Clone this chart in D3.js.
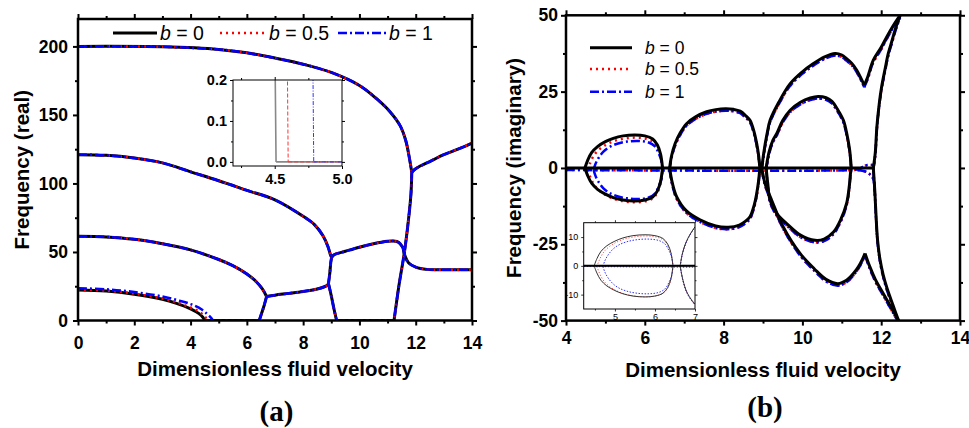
<!DOCTYPE html>
<html>
<head>
<meta charset="utf-8">
<script src="https://cdnjs.cloudflare.com/ajax/libs/d3/7.8.5/d3.min.js"></script>
<style>
body { margin: 0; background: #fff; }
svg { display: block; font-family: "Liberation Sans", Arial, sans-serif; }
</style>
</head>
<body>
<svg id="chart" width="969" height="428"></svg>
<script>
// ---- data: [velocity, frequency] ----

// (a) real part: branches common to b = 0, 0.5, 1
var realBranches = [
    [[0,200],[3,199.7],[5,197.8],[6,195.3],[7,191.5],[8,187],[9,181],[10,171.5],[10.6,162],[11.1,152],[11.45,142],[11.65,131],[11.78,118],[11.86,108]],
    [[11.86,108],[11.83,92],[11.74,73],[11.6,50],[11.4,25],[11.23,0]],
    [[11.86,108],[11.95,110],[12.1,112],[12.5,116],[13,121],[13.5,125],[14,129.5]],
    [[0,121],[1,120.5],[2,118.5],[3,115],[4,108.5],[5,102],[6,95],[7,88],[8,76],[8.4,70],[8.7,62],[8.88,54],[8.97,48],[9.01,46]],
    [[9.01,46],[9.1,48],[9.5,50.5],[10,53.5],[10.5,56],[11,57.8],[11.2,58],[11.4,57],[11.55,53]],
    [[11.55,53],[11.62,47],[11.75,42],[12,39],[12.4,37.3],[13,37],[14,37]],
    [[0,61.5],[1,61],[2,59.3],[3,56],[4,51.5],[5,44.5],[5.5,40],[6,34],[6.3,29],[6.55,23],[6.7,17.5]],
    [[6.7,17.5],[7,18.5],[7.5,19.8],[8,21.2],[8.5,23],[8.85,25.5],[8.9,27]],
    [[6.7,17.5],[6.6,10],[6.52,5],[6.44,0]],
    [[8.9,27],[8.95,35],[8.98,42],[9.01,46]],
    [[8.9,27],[9.0,18],[9.1,8],[9.19,0]],
    [[9.19,0],[11.23,0]]
];
// (a) lowest mode, one per b
var realLowB0  = [[0,22.3],[1,21.5],[2,19.2],[3,15.5],[3.5,12.5],[4,8.5],[4.3,5],[4.45,2],[4.51,0]];
var realLowB05 = [[0,22.6],[1,21.8],[2,19.6],[3,16],[3.5,13.2],[4,9.5],[4.3,6.5],[4.5,3],[4.58,0.8],[4.6,0]];
var realLowB1  = [[0,23.5],[1,22.8],[2,20.8],[3,17.5],[3.5,15],[4,12],[4.4,8],[4.6,4.5],[4.75,1.5],[4.79,0]];
var realFlat = [6.44, 0];

// (b) imaginary part: branches common to b = 0, 0.5, 1
var imagBranches = [
    [[6.63,0],[6.68,4],[6.77,8],[6.9,11.5],[7.06,14.5],[7.3,16.8],[7.57,18.4],[7.8,19.1],[8.05,19.4],[8.25,19.2],[8.42,18.6],[8.57,17],[8.67,15.6],[8.77,12],[8.84,8],[8.89,4],[8.92,0]],
    [[6.63,0],[6.7,-5],[6.81,-9.5],[7.05,-14],[7.4,-17],[7.8,-19],[8.12,-19.4],[8.4,-18.7],[8.55,-17.5],[8.67,-16],[8.78,-12],[8.84,-8.4],[8.89,-4],[8.92,0]],
    [[8.97,0],[9.02,5],[9.1,11],[9.18,15.6],[9.4,21.5],[9.69,27.6],[10,31.5],[10.28,34.2],[10.55,36.3],[10.83,37.5],[11,37],[11.12,35.8],[11.25,34.3],[11.38,32],[11.5,29],[11.57,27.1]],
    [[11.57,27.1],[11.65,29.5],[11.8,35.3],[12,39.5],[12.14,42.9],[12.3,46.5],[12.48,50]],
    [[8.97,0],[9.05,-5],[9.22,-10.6],[9.5,-19],[9.94,-28],[10.3,-33],[10.6,-36.5],[10.9,-37.9],[11.12,-36.8],[11.3,-34.5],[11.42,-32.4],[11.52,-30],[11.59,-28]],
    [[11.59,-28],[11.7,-32],[11.85,-36.5],[12,-40],[12.2,-44.5],[12.44,-50]],
    [[9.08,0],[9.15,5],[9.25,9],[9.35,11.3],[9.5,15.5],[9.69,18.9],[9.95,21.5],[10.2,22.9],[10.4,23.4],[10.6,23],[10.75,21.8],[10.9,19],[11.04,15.6],[11.13,11],[11.2,5.8],[11.24,0]],
    [[9.08,0],[9.12,-5],[9.18,-10.6],[9.35,-15],[9.6,-18.2],[9.95,-22],[10.32,-23.7],[10.55,-23.3],[10.79,-21],[10.97,-17],[11.12,-11.7],[11.19,-6],[11.22,-1.8],[11.24,0]],
    [[11.8,0],[11.85,5],[11.89,13.4],[11.95,21],[12.01,26.5],[12.1,32.5],[12.18,37.5],[12.27,41.5],[12.35,45.1],[12.48,50]],
    [[11.8,0],[11.84,-8],[11.87,-16],[11.91,-24],[11.97,-30],[12.05,-35],[12.15,-39.5],[12.3,-45],[12.44,-50]]
];
// (b) near-zero branch and the first loop, one per b
var imagZeroB0 = [[4,0],[11.82,0]];
var imagZeroB  = [[4,0],[11.3,0],[11.45,0.3],[11.55,1.2],[11.65,1.6],[11.82,1.6]];
var imagHookB  = [[11.4,0],[11.6,-0.5],[11.72,-1.5],[11.8,-3],[11.84,-8]];
var imagLoopB0  = [[4.48,0],[4.55,2.5],[4.65,5],[4.8,7],[5,8.6],[5.2,9.7],[5.45,10.5],[5.75,10.8],[6,10.5],[6.2,9.5],[6.32,7.5],[6.4,4.5],[6.45,0]];
var imagLoopB05 = [[4.55,0],[4.62,2.5],[4.72,5],[4.87,7],[5.05,8.5],[5.25,9.6],[5.5,10.3],[5.75,10.6],[6,10.3],[6.2,9.3],[6.32,7.4],[6.4,4.5],[6.45,0]];
var imagLoopB1  = [[4.7,0],[4.75,2],[4.83,4],[4.95,6],[5.1,7.5],[5.3,8.6],[5.55,9.3],[5.85,9.5],[6.1,9],[6.25,7.8],[6.35,5.5],[6.42,3],[6.45,0]];

var legendLabels = ["0", "0.5", "1"];

// ticks
var realXTicks = [0, 2, 4, 6, 8, 10, 12, 14], realXMinor = [1, 3, 5, 7, 9, 11, 13];
var realYTicks = [0, 50, 100, 150, 200], realYMinor = [25, 75, 125, 175];
var imagXTicks = [4, 6, 8, 10, 12, 14], imagXMinor = [5, 7, 9, 11, 13];
var imagYTicks = [-50, -25, 0, 25, 50], imagYMinor = [-37.5, -12.5, 12.5, 37.5];
var insetAXTicks = [4.5, 5.0], insetAXMinor = [4.25, 4.75];
var insetAYTicks = [0, 0.1, 0.2], insetAYMinor = [0.05, 0.15];
var insetBXTicks = [5, 6, 7], insetBXMinor = [4.5, 5.5, 6.5];
var insetBYTicks = [-10, 0, 10], insetBYMinor = [-5, 5];

// ---- drawing ----
var svg = d3.select("#chart");

var styles = [
    { color: "#000000", dash: null, width: 3 },
    { color: "#ff0000", dash: "2,4", width: 2.5 },
    { color: "#0000ff", dash: "9,3,2,3", width: 2.5 }
];

function intFmt(d) { return d < 0 ? "-" + Math.abs(d) : String(d); }

function addAxis(g, axis, tx, ty, font, sw) {
    var a = g.append("g").attr("transform", "translate(" + tx + "," + ty + ")").call(axis);
    a.select(".domain").remove();
    a.selectAll("line").attr("stroke", "#000").attr("stroke-width", sw);
    a.selectAll("text").attr("fill", "#000")
        .style("font-size", font.size + "px")
        .style("font-weight", font.weight)
        .style("font-family", '"Liberation Sans", Arial, sans-serif');
    return a;
}

// frame with labelled ticks left/bottom and mirrored ticks top/right
function drawFrame(g, x, y, o) {
    var w = x.range()[1], h = y.range()[0];
    var none = function() { return ""; };
    addAxis(g, d3.axisBottom(x).tickValues(o.xTicks).tickSize(o.major).tickSizeOuter(0).tickPadding(o.xPad).tickFormat(o.xFmt), 0, h, o.font, o.sw);
    addAxis(g, d3.axisBottom(x).tickValues(o.xMinor).tickSize(o.minor).tickSizeOuter(0).tickFormat(none), 0, h, o.font, o.sw);
    addAxis(g, d3.axisTop(x).tickValues(o.xTicks).tickSize(o.major).tickSizeOuter(0).tickFormat(none), 0, 0, o.font, o.sw);
    addAxis(g, d3.axisTop(x).tickValues(o.xMinor).tickSize(o.minor).tickSizeOuter(0).tickFormat(none), 0, 0, o.font, o.sw);
    addAxis(g, d3.axisLeft(y).tickValues(o.yTicks).tickSize(o.major).tickSizeOuter(0).tickPadding(o.yPad).tickFormat(o.yFmt), 0, 0, o.font, o.sw);
    addAxis(g, d3.axisLeft(y).tickValues(o.yMinor).tickSize(o.minor).tickSizeOuter(0).tickFormat(none), 0, 0, o.font, o.sw);
    addAxis(g, d3.axisRight(y).tickValues(o.yTicks).tickSize(o.major).tickSizeOuter(0).tickFormat(none), w, 0, o.font, o.sw);
    addAxis(g, d3.axisRight(y).tickValues(o.yMinor).tickSize(o.minor).tickSizeOuter(0).tickFormat(none), w, 0, o.font, o.sw);
    g.append("rect").attr("width", w).attr("height", h)
        .attr("fill", "none").attr("stroke", "#000").attr("stroke-width", o.frameW);
}

function drawLines(g, x, y, list, st, shift) {
    var line = d3.line()
        .x(function(d) { return x(d[0]); })
        .y(function(d) { return y(d[1]); })
        .curve(d3.curveCatmullRom.alpha(0.5));
    g.selectAll(null).data(list).enter().append("path")
        .attr("d", line)
        .attr("fill", "none")
        .attr("stroke", st.color)
        .attr("stroke-width", st.width)
        .attr("stroke-dasharray", st.dash)
        .attr("stroke-linejoin", "round")
        .attr("transform", shift ? "translate(0," + shift + ")" : null);
}

function clipGroup(g, id, w, h) {
    g.append("clipPath").attr("id", id).append("rect").attr("width", w).attr("height", h);
    return g.append("g").attr("clip-path", "url(#" + id + ")");
}

var bold17 = { size: 17.5, weight: "bold" };

// ---------- panel (a) ----------
var pa = { left: 78, top: 19, w: 394, h: 301.5 };
var ga = svg.append("g").attr("transform", "translate(" + pa.left + "," + pa.top + ")");
var xa = d3.scaleLinear().domain([0, 14]).range([0, pa.w]);
var ya = d3.scaleLinear().domain([0, 220]).range([pa.h, 0]);

var la = clipGroup(ga, "clipA", pa.w, pa.h);
var realLow = [realLowB0, realLowB05, realLowB1];
function realSet(i) {
    var low = realLow[i];
    return realBranches.concat([low, [low[low.length - 1], realFlat]]);
}
styles.forEach(function(st, i) {
    drawLines(la, xa, ya, realSet(i), st, 0);
});

drawFrame(ga, xa, ya, {
    xTicks: realXTicks, xMinor: realXMinor, yTicks: realYTicks, yMinor: realYMinor,
    major: 5, minor: 3, sw: 2, frameW: 2.5, font: bold17, xPad: 11, yPad: 5,
    xFmt: intFmt, yFmt: intFmt
});

// inset (a)
var ia = { left: 155, top: 61, w: 109, h: 86 };
var gia = ga.append("g").attr("transform", "translate(" + ia.left + "," + ia.top + ")");
gia.append("rect").attr("width", ia.w).attr("height", ia.h).attr("fill", "#fff");
var xia = d3.scaleLinear().domain([4.19, 5.0]).range([0, ia.w]);
var yia = d3.scaleLinear().domain([-0.01, 0.2]).range([ia.h, 0]);
var lia = clipGroup(gia, "clipIA", ia.w, ia.h);
var insetAStyles = [
    { color: "#888888", dash: null, width: 1.6 },
    { color: "#ff3333", dash: "4,2", width: 1 },
    { color: "#3333ff", dash: "4,1.5,1,1.5", width: 1 }
];
insetAStyles.forEach(function(st, i) {
    var low = realLow[i];
    var line = d3.line().x(function(d) { return xia(d[0]); }).y(function(d) { return yia(d[1]); });
    lia.selectAll(null).data([low, [low[low.length - 1], realFlat]]).enter().append("path")
        .attr("d", line).attr("fill", "none")
        .attr("stroke", st.color).attr("stroke-width", st.width).attr("stroke-dasharray", st.dash);
});
drawFrame(gia, xia, yia, {
    xTicks: insetAXTicks, xMinor: insetAXMinor, yTicks: insetAYTicks, yMinor: insetAYMinor,
    major: 3, minor: 2, sw: 1, frameW: 1, font: { size: 14.5, weight: "bold" }, xPad: 5, yPad: 3,
    xFmt: d3.format(".1f"), yFmt: d3.format(".1f")
});

// ---------- panel (b) ----------
var pb = { left: 566, top: 15.3, w: 394, h: 305.3 };
var gb = svg.append("g").attr("transform", "translate(" + pb.left + "," + pb.top + ")");
var xb = d3.scaleLinear().domain([4, 14]).range([0, pb.w]);
var yb = d3.scaleLinear().domain([-50, 50]).range([pb.h, 0]);

function mirror(arr) { return arr.map(function(d) { return [d[0], -d[1]]; }); }
var imagLoops = [imagLoopB0, imagLoopB05, imagLoopB1];
function imagSet(i) {
    var own = [imagLoops[i], mirror(imagLoops[i])];
    if (i === 0) return [imagZeroB0].concat(own, imagBranches);
    return [imagZeroB, imagHookB].concat(own, imagBranches);
}

var lb = clipGroup(gb, "clipB", pb.w, pb.h);
drawLines(lb, xb, yb, imagSet(1), styles[1], 2);
drawLines(lb, xb, yb, imagSet(2), styles[2], 2);
drawLines(lb, xb, yb, imagSet(0), styles[0], 0);

drawFrame(gb, xb, yb, {
    xTicks: imagXTicks, xMinor: imagXMinor, yTicks: imagYTicks, yMinor: imagYMinor,
    major: 5, minor: 3, sw: 2, frameW: 2.5, font: bold17, xPad: 6, yPad: 3,
    xFmt: intFmt, yFmt: intFmt
});

// inset (b)
var ib = { left: 17.7, top: 207.4, w: 111.3, h: 86.3 };
var gib = gb.append("g").attr("transform", "translate(" + ib.left + "," + ib.top + ")");
gib.append("rect").attr("width", ib.w).attr("height", ib.h).attr("fill", "#fff");
var xib = d3.scaleLinear().domain([4.22, 7]).range([0, ib.w]);
var yib = d3.scaleLinear().domain([-15, 15]).range([ib.h, 0]);
var lib = clipGroup(gib, "clipIB", ib.w, ib.h);
var insetBStyles = [
    { color: "#333333", dash: null, width: 1 },
    { color: "#ff3333", dash: "1,2", width: 1 },
    { color: "#3333ff", dash: "1.5,1.5", width: 1 }
];
drawLines(lib, xib, yib, imagSet(1), insetBStyles[1], 0.6);
drawLines(lib, xib, yib, imagSet(2), insetBStyles[2], 0.6);
drawLines(lib, xib, yib, imagSet(0), insetBStyles[0], 0);
drawLines(lib, xib, yib, [imagZeroB0], { color: "#000", dash: null, width: 2 }, 0);
drawFrame(gib, xib, yib, {
    xTicks: insetBXTicks, xMinor: insetBXMinor, yTicks: insetBYTicks, yMinor: insetBYMinor,
    major: 2.5, minor: 1.5, sw: 0.8, frameW: 1, font: { size: 9, weight: "normal" }, xPad: 2, yPad: 3,
    xFmt: intFmt, yFmt: intFmt
});

// ---------- titles ----------
var titleFont = '"Liberation Sans", Arial, sans-serif';
function title(x, y, txt, rot) {
    svg.append("text")
        .attr("transform", "translate(" + x + "," + y + ")" + (rot ? " rotate(-90)" : ""))
        .attr("text-anchor", "middle")
        .style("font-family", titleFont).style("font-size", "20.5px").style("font-weight", "bold")
        .text(txt);
}
title(pa.left + pa.w / 2, 376, "Dimensionless fluid velocity");
title(pb.left + pb.w / 2, 376.5, "Dimensionless fluid velocity");
title(29, pa.top + pa.h / 2, "Frequency (real)", true);
title(521, pb.top + pb.h / 2, "Frequency (imaginary)", true);

svg.append("text").attr("x", 276.5).attr("y", 421).attr("text-anchor", "middle")
    .style("font-family", '"Liberation Serif", "Times New Roman", serif').style("font-size", "29px").style("font-weight", "bold")
    .text("(a)");
svg.append("text").attr("x", 765).attr("y", 417).attr("text-anchor", "middle")
    .style("font-family", '"Liberation Serif", "Times New Roman", serif').style("font-size", "29px").style("font-weight", "bold")
    .text("(b)");

// ---------- legends ----------
function legendItem(x1, x2, y, st, label, tx, size) {
    svg.append("line").attr("x1", x1).attr("x2", x2).attr("y1", y).attr("y2", y)
        .attr("stroke", st.color).attr("stroke-width", st.width).attr("stroke-dasharray", st.dash);
    var t = svg.append("text").attr("x", tx).attr("y", y + size * 0.36)
        .style("font-family", titleFont).style("font-size", size + "px");
    t.append("tspan").style("font-style", "italic").text("b");
    t.append("tspan").text(" = " + label);
}
var legA = [[113, 157, 160], [220, 266, 269], [338, 386, 389]];
legA.forEach(function(p, i) { legendItem(p[0], p[1], 33, styles[i], legendLabels[i], p[2], 19.5); });
var legBy = [47.7, 69, 91.7];
legBy.forEach(function(yy, i) { legendItem(590, 632, yy, styles[i], legendLabels[i], 645, 17.5); });
</script>
</body>
</html>
